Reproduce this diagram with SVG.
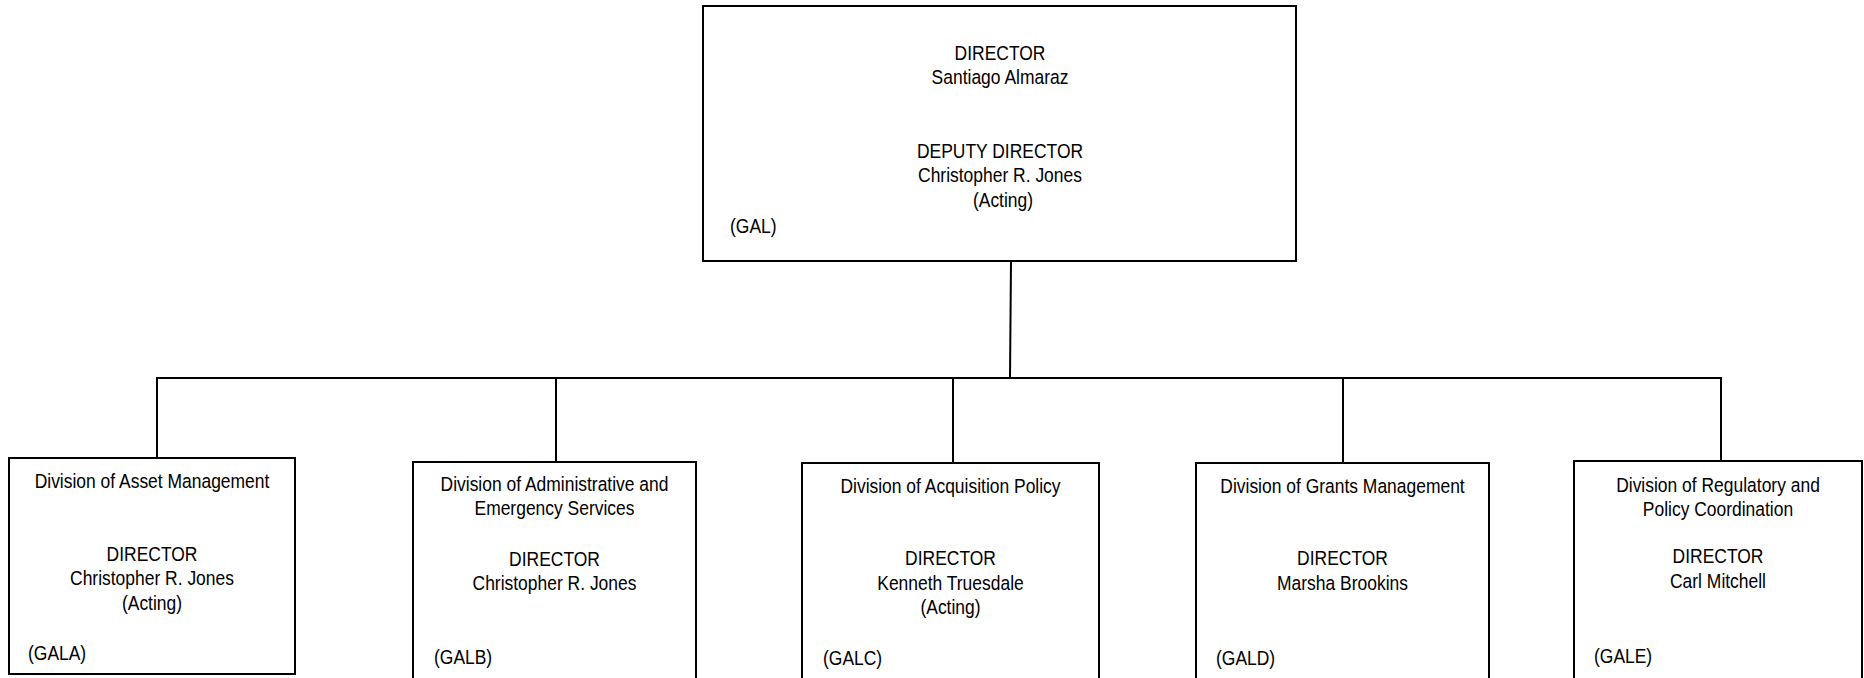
<svg xmlns="http://www.w3.org/2000/svg" width="1864" height="678" viewBox="0 0 1864 678">
<style>
.box{fill:#fff;stroke:#000;stroke-width:2}
.ln{fill:none;stroke:#000;stroke-width:2}
text{font-family:"Liberation Sans",Arial,sans-serif;font-size:19.5px;fill:#000}
.c{text-anchor:middle}
.l{text-anchor:start}
</style>
<rect width="1864" height="678" fill="#fff"/>
<g id="connectors">
<line class="ln" x1="1011" y1="261" x2="1010" y2="378"/>
<line class="ln" x1="156" y1="378" x2="1722" y2="378"/>
<line class="ln" x1="157" y1="377" x2="157" y2="458"/>
<line class="ln" x1="556" y1="377" x2="556" y2="462"/>
<line class="ln" x1="953" y1="377" x2="953" y2="463"/>
<line class="ln" x1="1343" y1="377" x2="1343" y2="463"/>
<line class="ln" x1="1721" y1="377" x2="1721" y2="461"/>
</g>
<g id="GAL">
<rect class="box" x="703" y="6" width="593" height="255"/>
<text class="c" transform="matrix(0.895 0 0 1 1000 0)" y="60.5">DIRECTOR</text>
<text class="c" transform="matrix(0.895 0 0 1 1000 0)" y="84.5">Santiago Almaraz</text>
<text class="c" transform="matrix(0.895 0 0 1 1000 0)" y="158.5">DEPUTY DIRECTOR</text>
<text class="c" transform="matrix(0.895 0 0 1 1000 0)" y="182.5">Christopher R. Jones</text>
<text class="c" transform="matrix(0.895 0 0 1 1003 0)" y="207">(Acting)</text>
<text class="l" transform="matrix(0.895 0 0 1 730 0)" y="233.5">(GAL)</text>
</g>
<g id="GALA">
<rect class="box" x="9" y="458" width="286" height="216"/>
<text class="c" transform="matrix(0.895 0 0 1 152 0)" y="488">Division of Asset Management</text>
<text class="c" transform="matrix(0.895 0 0 1 152 0)" y="561">DIRECTOR</text>
<text class="c" transform="matrix(0.895 0 0 1 152 0)" y="585.5">Christopher R. Jones</text>
<text class="c" transform="matrix(0.895 0 0 1 152 0)" y="610.5">(Acting)</text>
<text class="l" transform="matrix(0.895 0 0 1 28 0)" y="660">(GALA)</text>
</g>
<g id="GALB">
<rect class="box" x="413" y="462" width="283" height="230"/>
<text class="c" transform="matrix(0.895 0 0 1 554.5 0)" y="491.5">Division of Administrative and</text>
<text class="c" transform="matrix(0.895 0 0 1 554.5 0)" y="515">Emergency Services</text>
<text class="c" transform="matrix(0.895 0 0 1 554.5 0)" y="566">DIRECTOR</text>
<text class="c" transform="matrix(0.895 0 0 1 554.5 0)" y="590">Christopher R. Jones</text>
<text class="l" transform="matrix(0.895 0 0 1 434 0)" y="664.5">(GALB)</text>
</g>
<g id="GALC">
<rect class="box" x="802" y="463" width="297" height="230"/>
<text class="c" transform="matrix(0.895 0 0 1 950.5 0)" y="493">Division of Acquisition Policy</text>
<text class="c" transform="matrix(0.895 0 0 1 950.5 0)" y="565.5">DIRECTOR</text>
<text class="c" transform="matrix(0.895 0 0 1 950.5 0)" y="590">Kenneth Truesdale</text>
<text class="c" transform="matrix(0.895 0 0 1 950.5 0)" y="614.5">(Acting)</text>
<text class="l" transform="matrix(0.895 0 0 1 823 0)" y="665.5">(GALC)</text>
</g>
<g id="GALD">
<rect class="box" x="1196" y="463" width="293" height="230"/>
<text class="c" transform="matrix(0.895 0 0 1 1342.5 0)" y="493">Division of Grants Management</text>
<text class="c" transform="matrix(0.895 0 0 1 1342.5 0)" y="565.5">DIRECTOR</text>
<text class="c" transform="matrix(0.895 0 0 1 1342.5 0)" y="590">Marsha Brookins</text>
<text class="l" transform="matrix(0.895 0 0 1 1216 0)" y="665.5">(GALD)</text>
</g>
<g id="GALE">
<rect class="box" x="1574" y="461" width="288" height="230"/>
<text class="c" transform="matrix(0.895 0 0 1 1718 0)" y="492">Division of Regulatory and</text>
<text class="c" transform="matrix(0.895 0 0 1 1718 0)" y="516">Policy Coordination</text>
<text class="c" transform="matrix(0.895 0 0 1 1718 0)" y="563.5">DIRECTOR</text>
<text class="c" transform="matrix(0.895 0 0 1 1718 0)" y="588">Carl Mitchell</text>
<text class="l" transform="matrix(0.895 0 0 1 1594 0)" y="663.5">(GALE)</text>
</g>
</svg>
